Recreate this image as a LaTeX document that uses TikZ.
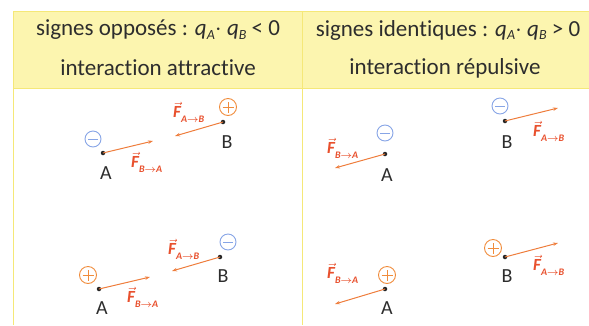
\documentclass[tikz,border=0pt]{standalone}
\usepackage{fontspec}
\setmainfont{Carlito}[Ligatures=NoCommon]
\usetikzlibrary{arrows.meta}
\usepackage{amsmath}
\definecolor{hdrfill}{RGB}{252,245,175}
\definecolor{hdrline}{RGB}{245,232,120}
\definecolor{txtgray}{RGB}{45,45,45}
\definecolor{forcecol}{RGB}{238,125,60}
\definecolor{flabel}{RGB}{232,80,45}
\definecolor{minusblue}{RGB}{135,165,230}
\definecolor{pluscol}{RGB}{240,140,60}
\newcommand{\qsub}[1]{\textit{q}\raisebox{-0.35ex}{\fontsize{14}{14}\selectfont\textit{#1}}}
\newcommand{\Flab}[2]{$\vec{\hbox{\bfseries\itshape F}}$\raisebox{-0.55ex}{\fontsize{10}{10}\selectfont\bfseries\itshape #1$\boldsymbol{\to}$#2}}
\tikzset{
  hdrtext/.style={text=txtgray, font=\fontsize{23}{23}\selectfont, inner sep=0pt},
  ptdot/.style={circle, fill=black!85, minimum size=4.5pt, inner sep=0pt},
  ptlabel/.style={text=txtgray, font=\fontsize{20}{20}\selectfont, inner sep=0pt},
  force/.style={draw=forcecol, line width=1pt, -{Stealth[length=5pt,width=3.5pt]}},
  flab/.style={text=flabel, font=\fontsize{17}{17}\selectfont, inner sep=0pt, anchor=west},
  chargeminus/.style={circle, draw=minusblue, line width=0.9pt, minimum size=16pt, inner sep=0pt,
    path picture={\draw[minusblue, line width=0.9pt] ([xshift=-5pt]path picture bounding box.center) -- ([xshift=5pt]path picture bounding box.center);}},
  chargeplus/.style={circle, draw=pluscol, line width=0.9pt, minimum size=17pt, inner sep=0pt,
    path picture={\draw[pluscol, line width=0.9pt] ([xshift=-5.5pt]path picture bounding box.center) -- ([xshift=5.5pt]path picture bounding box.center)
      ([yshift=-5.5pt]path picture bounding box.center) -- ([yshift=5.5pt]path picture bounding box.center);}}
}
\begin{document}
\begin{tikzpicture}[x=1pt,y=-1pt]
\useasboundingbox (0,0) rectangle (589,325);
% table
\fill[hdrfill] (13,11) rectangle (592,88);
\draw[hdrline, line width=0.8pt] (13,325) -- (13,11) -- (592,11);
\draw[hdrline, line width=0.8pt] (13,88) -- (592,88);
\draw[hdrline, line width=0.8pt] (302,11) -- (302,325);
% header texts
\node[hdrtext] (h1) at (158,30) {signes opposés : \qsub{A}$\cdot$ \qsub{B} < 0};
\node[hdrtext] (h2) at (158,68) {interaction attractive};
\node[hdrtext] (h3) at (448,30) {signes identiques : \qsub{A}$\cdot$ \qsub{B} > 0};
\node[hdrtext] (h4) at (445,68) {interaction répulsive};

% Panel 1 (top-left)
\node[ptdot] (A1) at (103,153) {};
\node[chargeminus] (cA1) at (93,139) {};
\node[ptlabel] (lA1) at (106,173) {A};
\coordinate (fA1) at (153,141);
\draw[force] (A1.center) -- (fA1);
\node[flab] (tA1) at (131,162) {\Flab{B}{A}};
\node[ptdot] (B1) at (223,122) {};
\node[chargeplus] (cB1) at (228,107) {};
\node[ptlabel] (lB1) at (227,142) {B};
\coordinate (fB1) at (175,136);
\draw[force] (B1.center) -- (fB1);
\node[flab] (tB1) at (173,112) {\Flab{A}{B}};

% Panel 2 (top-right)
\node[ptdot] (A2) at (385,154) {};
\node[chargeminus] (cA2) at (385,133) {};
\node[ptlabel] (lA2) at (387,175) {A};
\coordinate (fA2) at (335,168);
\draw[force] (A2.center) -- (fA2);
\node[flab] (tA2) at (327,148) {\Flab{B}{A}};
\node[ptdot] (B2) at (505,121) {};
\node[chargeminus] (cB2) at (500,106) {};
\node[ptlabel] (lB2) at (507,142) {B};
\coordinate (fB2) at (558,108);
\draw[force] (B2.center) -- (fB2);
\node[flab] (tB2) at (533,131) {\Flab{A}{B}};

% Panel 3 (bottom-left)
\node[ptdot] (A3) at (99,289) {};
\node[chargeplus] (cA3) at (88,275) {};
\node[ptlabel] (lA3) at (102,308) {A};
\coordinate (fA3) at (150,277);
\draw[force] (A3.center) -- (fA3);
\node[flab] (tA3) at (127,297) {\Flab{B}{A}};
\node[ptdot] (B3) at (220,257) {};
\node[chargeminus] (cB3) at (228,242) {};
\node[ptlabel] (lB3) at (223,276) {B};
\coordinate (fB3) at (172,271);
\draw[force] (B3.center) -- (fB3);
\node[flab] (tB3) at (168,249) {\Flab{A}{B}};

% Panel 4 (bottom-right)
\node[ptdot] (A4) at (385,289) {};
\node[chargeplus] (cA4) at (387,275) {};
\node[ptlabel] (lA4) at (387,308) {A};
\coordinate (fA4) at (335,304);
\draw[force] (A4.center) -- (fA4);
\node[flab] (tA4) at (327,273) {\Flab{B}{A}};
\node[ptdot] (B4) at (505,257) {};
\node[chargeplus] (cB4) at (493,248) {};
\node[ptlabel] (lB4) at (507,276) {B};
\coordinate (fB4) at (558,243);
\draw[force] (B4.center) -- (fB4);
\node[flab] (tB4) at (533,265) {\Flab{A}{B}};
\end{tikzpicture}
\end{document}
